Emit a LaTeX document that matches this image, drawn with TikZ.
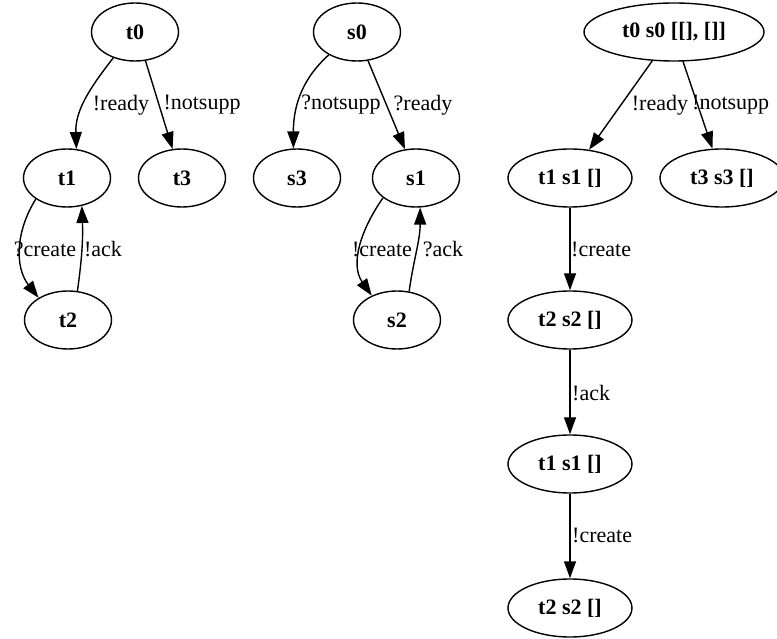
\documentclass[tikz,border=0pt]{standalone}
\usepackage{fontspec}
\setmainfont{Liberation Serif}
\usetikzlibrary{shapes.geometric,arrows.meta}
\begin{document}
\begin{tikzpicture}[x=1pt,y=1pt,
  state/.style={ellipse, draw, line width=1.4pt, inner sep=0pt,
    minimum width=87pt, minimum height=58pt,
    font=\fontsize{22}{26}\selectfont\bfseries},
  wide/.style={state, minimum width=124pt},
  widest/.style={state, minimum width=180pt},
  edge/.style={line width=1.4pt, -{Triangle[length=17pt,width=12pt]}},
  lbl/.style={font=\fontsize{22}{26}\selectfont, inner sep=0pt}]
\useasboundingbox (0,0) rectangle (777,638);
\clip (0,0) rectangle (777,638);

% first automaton
\node[state] (t0) at (135,606) {t0};
\node[state] (t1) at (67,460) {t1};
\node[state] (t3) at (182,460) {t3};
\node[state] (t2) at (68,318) {t2};

\draw[edge] (t0.230) to[out=232,in=92] (t1.72);
\draw[edge] (t0.290) -- (t3.108);
\draw[edge] (t1.214) to[out=238,in=128] (t2.143);
\draw[edge] (t2.72) to[out=82,in=272] (t1.298);

\node[lbl] (lt01) at (121,533) {!ready};
\node[lbl] (lt03) at (202,533) {!notsupp};
\node[lbl] (lt12) at (45,389) {?create};
\node[lbl] (lt21) at (103,389) {!ack};

% second automaton
\node[state] (s0) at (357,606) {s0};
\node[state] (s3) at (297,460) {s3};
\node[state] (s1) at (416,460) {s1};
\node[state] (s2) at (397,318) {s2};

\draw[edge] (s0.219) to[out=222,in=90] (s3.97);
\draw[edge] (s0.291) -- (s1.111);
\draw[edge] (s1.211) to[out=235,in=125] (s2.136);
\draw[edge] (s2.67) to[out=82,in=270] (s1.278);

\node[lbl] (ls03) at (341,533) {?notsupp};
\node[lbl] (ls01) at (423,533) {?ready};
\node[lbl] (ls12) at (382,389) {!create};
\node[lbl] (ls21) at (443,389) {?ack};

% product
\node[widest] (p0) at (674,606) {t0 s0 [[], []]};
\node[wide] (p1) at (570,460) {t1 s1 []};
\node[wide] (p3) at (722,460) {t3 s3 []};
\node[wide] (p2) at (570,318) {t2 s2 []};
\node[wide] (p4) at (570,174) {t1 s1 []};
\node[wide] (p5) at (570,30) {t2 s2 []};

\draw[edge] (p0.233) -- (p1.56);
\draw[edge] (p0.287) -- (p3.108);
\draw[edge] (p1.south) -- (p2.north);
\draw[edge] (p2.south) -- (p4.north);
\draw[edge] (p4.south) -- (p5.north);

\node[lbl] (lp01) at (660,533) {!ready};
\node[lbl, anchor=west] (lp03) at (692,533) {!notsupp};
\node[lbl, anchor=west] (lp12) at (571,389) {!create};
\node[lbl, anchor=west] (lp24) at (572,245) {!ack};
\node[lbl, anchor=west] (lp45) at (572,103) {!create};
\end{tikzpicture}
\end{document}
